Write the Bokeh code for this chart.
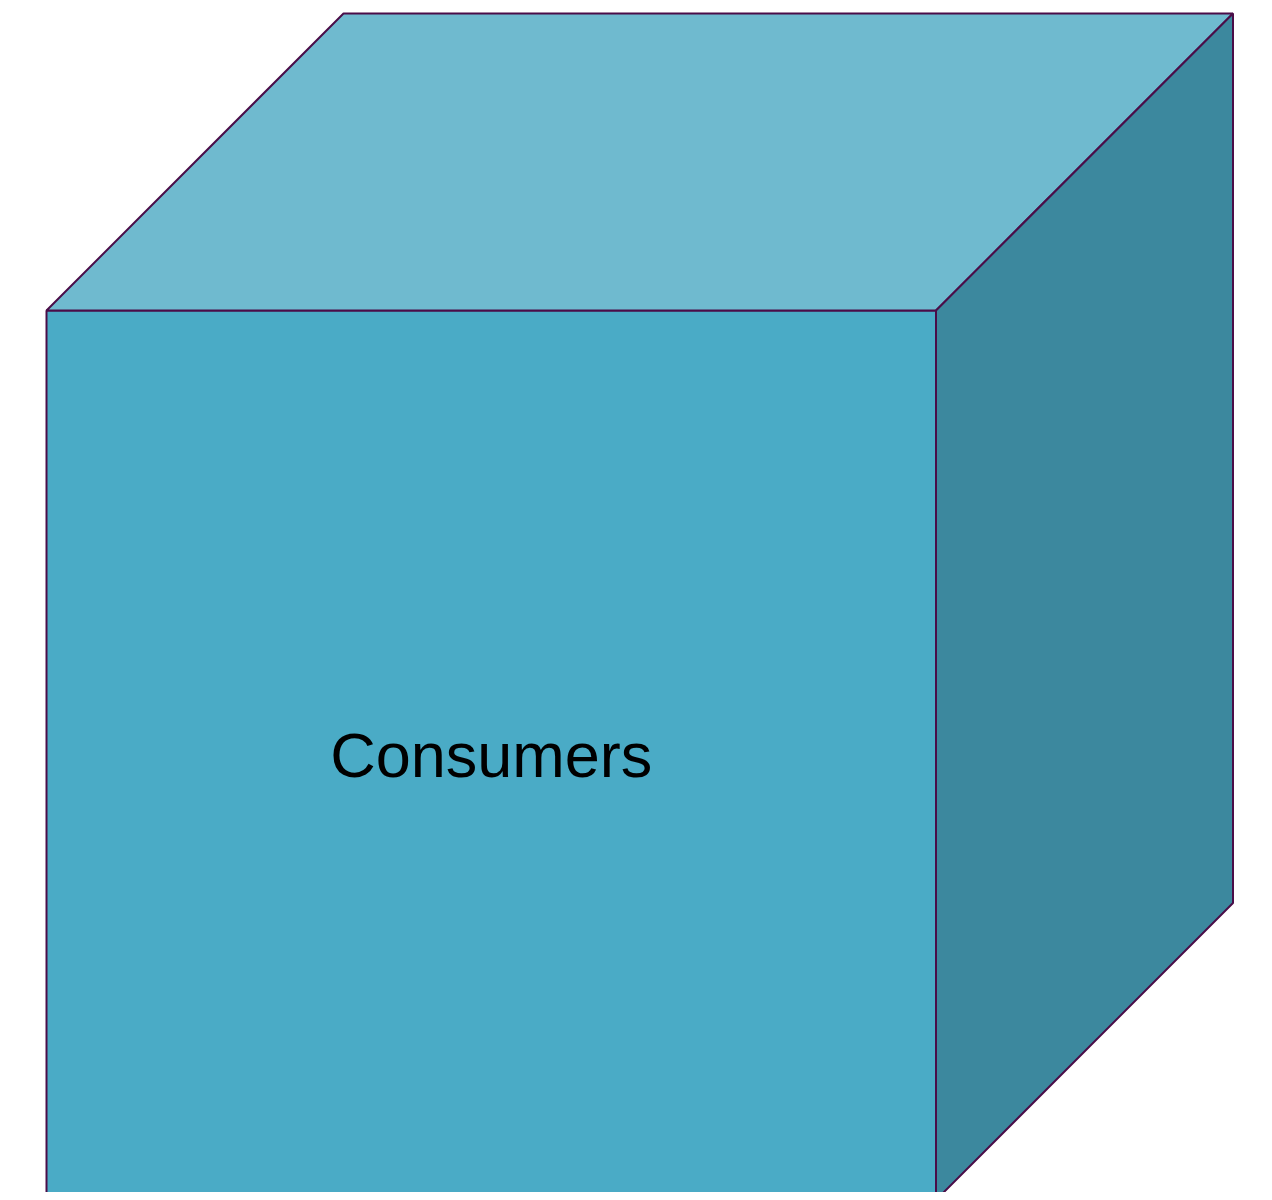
from bokeh.plotting import figure
from bokeh.models import Range1d
from bokeh.core.properties import value
from bokeh.embed import file_html
from bokeh.resources import INLINE

# Cube geometry (data units = screen pixels)
label = ["Consumers"]
origin_x = [46.0]
origin_y = [-7.5]
edge = [889.5]
depth = [297.0]

face_names = ["front", "top", "right"]
face_colors = ["#4AABC6", "#6FBACF", "#3C889E"]
outline_color = "#4A0D48"

ox, oy, s, d = origin_x[0], origin_y[0], edge[0], depth[0]
front_x = [ox, ox + s, ox + s, ox]
front_y = [oy, oy, oy + s, oy + s]
top_x = [ox, ox + s, ox + s + d, ox + d]
top_y = [oy + s, oy + s, oy + s + d, oy + s + d]
right_x = [ox + s, ox + s + d, ox + s + d, ox + s]
right_y = [oy, oy + d, oy + s + d, oy + s]

W, H = 1264, 1192
p = figure(width=W, height=H, output_backend="svg", toolbar_location=None,
           x_range=Range1d(0, W), y_range=Range1d(0, H),
           min_border=0, min_border_left=0, min_border_right=0,
           min_border_top=0, min_border_bottom=0)
p.axis.visible = False
p.grid.visible = False
p.outline_line_color = None
p.background_fill_color = "white"
p.border_fill_color = "white"

p.patches(xs=[front_x, top_x, right_x], ys=[front_y, top_y, right_y],
          fill_color=face_colors, line_color=outline_color, line_width=2)

p.text(x=[ox + s / 2], y=[oy + s / 2], text=label,
       text_font=value("Liberation Sans"), text_font_size="63px",
       text_align="center", text_baseline="middle", text_color="black")

open("out.html", "w").write(file_html(p, INLINE))
